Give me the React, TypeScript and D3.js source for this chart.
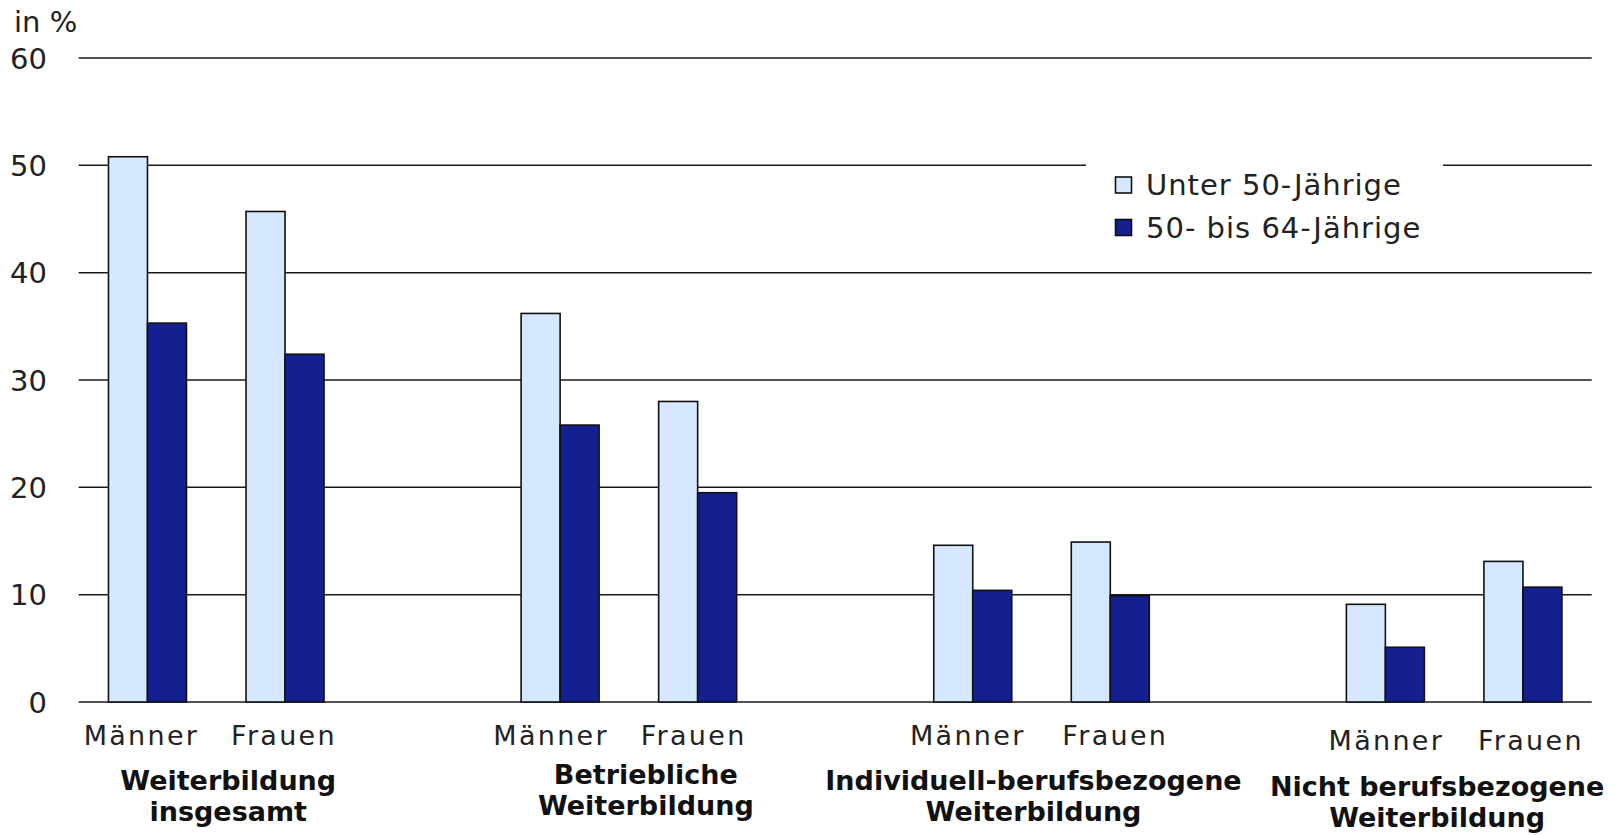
import React, { useEffect } from "react";
import * as d3 from "d3";

// ---- data ----
const groupLines: string[][] = [
  ["Weiterbildung", "insgesamt"],
  ["Betriebliche", "Weiterbildung"],
  ["Individuell-berufsbezogene", "Weiterbildung"],
  ["Nicht berufsbezogene", "Weiterbildung"],
];
const sexes = ["Männer", "Frauen"];
const seriesNames = ["Unter 50-Jährige", "50- bis 64-Jährige"];
// order: group1 M, F, group2 M, F, group3 M, F, group4 M, F
const under50 = [50.8, 45.7, 36.2, 28.0, 14.6, 14.9, 9.1, 13.1];
const age50to64 = [35.3, 32.4, 25.8, 19.5, 10.4, 9.9, 5.1, 10.7];
const yTicks = [0, 10, 20, 30, 40, 50, 60];
const yUnit = "in %";

// ---- layout / style ----
const W = 1618;
const H = 835;
const X0 = 78.7;
const X1 = 1591.7;
const Y0 = 702;
const Y60 = 58;
const colors = ["#d5e8ff", "#14208f"];
const font = "'DejaVu Sans', Verdana, sans-serif";
const catDx = [[-6, -1], [-9, -4], [-5, 5], [1, 8]];
const catDy = [0, 0, 0, 5];
const grpDx = [12, 17, -8, -17];
const grpDy = [0, -6, 0, 6];

export default function App() {
  useEffect(() => {
    document.body.style.margin = "0";
  }, []);

  const slots: string[] = [];
  groupLines.forEach((_, gi) => {
    sexes.forEach((s) => slots.push(`${gi}-${s}`));
    if (gi < groupLines.length - 1) slots.push(`${gi}-gap`);
  });
  const x = d3.scaleBand<string>().domain(slots).range([X0, X1]).padding(0);
  const bw = x.bandwidth();
  const pad = (bw - 78) / 2;
  const x1 = d3.scaleBand<string>().domain(seriesNames).range([pad, bw - pad]).padding(0);
  const y = d3.scaleLinear().domain([0, 60]).range([Y0, Y60]);

  const seriesVals = [under50, age50to64];

  const bars: JSX.Element[] = [];
  groupLines.forEach((_, gi) => {
    sexes.forEach((s, si) => {
      const idx = gi * 2 + si;
      seriesNames.forEach((sn, k) => {
        const v = seriesVals[k][idx];
        bars.push(
          <rect
            key={`${gi}-${si}-${k}`}
            x={(x(`${gi}-${s}`) as number) + (x1(sn) as number)}
            y={y(v)}
            width={x1.bandwidth()}
            height={y(0) - y(v)}
            fill={colors[k]}
            stroke="#111"
            strokeWidth={1.6}
          />
        );
      });
    });
  });

  return (
    <div style={{ position: "absolute", left: 0, top: 0 }}>
      <svg width={W} height={H} style={{ display: "block", background: "#fff" }}>
        {/* gridlines */}
        {yTicks.map((t) => (
          <line key={t} x1={X0} x2={X1} y1={y(t)} y2={y(t)} stroke="#1a1a1a" strokeWidth={1.5} />
        ))}
        {/* tick labels */}
        {yTicks.map((t) => (
          <text
            key={"l" + t}
            x={47}
            y={y(t) + 10.5}
            textAnchor="end"
            fontFamily={font}
            fontSize={29}
            fill="#222"
          >
            {t}
          </text>
        ))}
        <text x={14} y={32} fontFamily={font} fontSize={29} fill="#222">
          {yUnit}
        </text>

        {/* legend box */}
        <rect x={1086} y={150} width={357} height={100} fill="#fff" />
        {seriesNames.map((sn, k) => (
          <g key={sn} transform={`translate(0, ${k * 42.5})`}>
            <rect x={1115.5} y={177} width={16} height={16} fill={colors[k]} stroke="#111" strokeWidth={1.6} />
            <text x={1146} y={195} fontFamily={font} fontSize={29} letterSpacing={1} fill="#222">
              {sn}
            </text>
          </g>
        ))}

        {bars}

        {/* category labels */}
        {groupLines.map((_, gi) =>
          sexes.map((s, si) => (
            <text
              key={`c${gi}${si}`}
              x={(x(`${gi}-${s}`) as number) + bw / 2 + catDx[gi][si]}
              y={745 + catDy[gi]}
              textAnchor="middle"
              fontFamily={font}
              fontSize={27}
              letterSpacing={2.3}
              fill="#222"
            >
              {s}
            </text>
          ))
        )}

        {/* group labels */}
        {groupLines.map((lines, gi) => {
          const cx = (x(`${gi}-${sexes[1]}`) as number) + grpDx[gi];
          return lines.map((ln, li) => (
            <text
              key={`g${gi}${li}`}
              x={cx}
              y={790 + grpDy[gi] + li * 31}
              textAnchor="middle"
              fontFamily={font}
              fontWeight="bold"
              fontSize={27}
              fill="#111"
            >
              {ln}
            </text>
          ));
        })}
      </svg>
    </div>
  );
}
